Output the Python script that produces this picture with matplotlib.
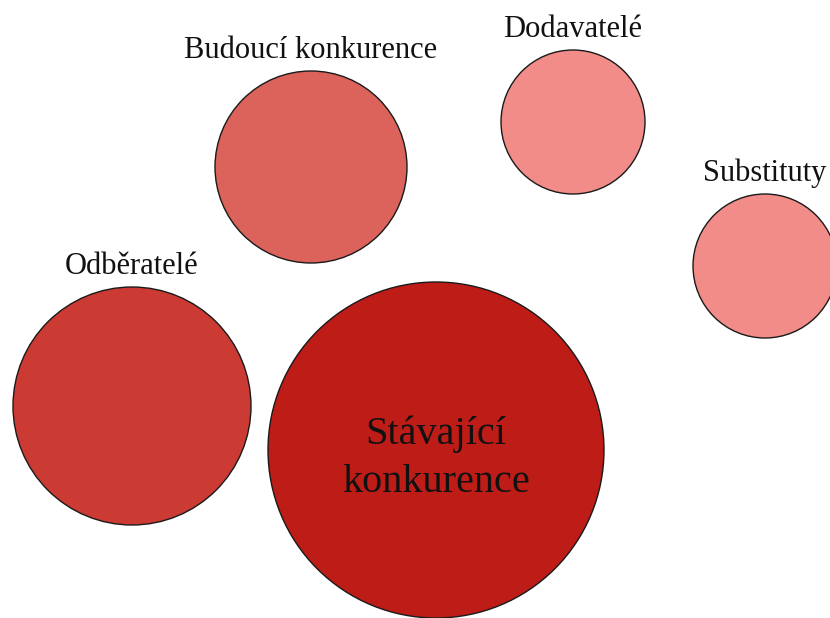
import matplotlib
matplotlib.use("Agg")
import matplotlib.pyplot as plt
from matplotlib.patches import Circle

# bubbles (pixel-like coordinates, y grows downward)
names = ['Stávající\nkonkurence', 'Odběratelé', 'Budoucí konkurence', 'Dodavatelé', 'Substituty']
xs = [436, 132, 311, 573, 765]
ys = [450, 406, 167, 122, 266]
radius = [168, 119, 96, 72, 72]
colors = ['#BE1C17', '#CB3A33', '#DC625C', '#F28C89', '#F28C89']

plt.rcParams['font.family'] = ['Liberation Serif', 'DejaVu Serif']

fig = plt.figure(figsize=(8.3, 6.18), dpi=100)
ax = fig.add_axes([0, 0, 1, 1])
ax.set_xlim(0, 830)
ax.set_ylim(618, 0)
ax.set_aspect('equal')
ax.axis('off')

for i in range(len(names)):
    c = Circle((xs[i], ys[i]), radius[i], facecolor=colors[i], edgecolor='#1a1a1a', lw=1.0)
    ax.add_patch(c)
    if i == 0:
        # big label inside the main bubble
        ax.text(xs[i], ys[i] + 8, names[i], ha='center', va='center', fontsize=29,
                linespacing=1.38, color='#111111')
    else:
        ax.text(xs[i], ys[i] - radius[i] - 13, names[i], ha='center', va='baseline',
                fontsize=22, color='#111111')

fig.savefig('out.png', dpi=100)
